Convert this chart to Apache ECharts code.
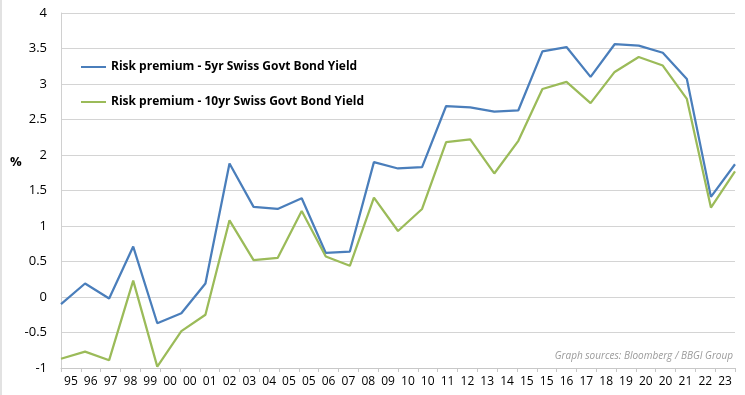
<!DOCTYPE html>
<html>
<head>
<meta charset="utf-8">
<script src="https://cdn.jsdelivr.net/npm/echarts@6/dist/echarts.min.js"></script>
<style>
  html, body { margin: 0; padding: 0; background: #fff; }
  #chart { width: 745px; height: 395px; }
</style>
</head>
<body>
<div id="chart"></div>
<script>
// yearly points, 1995 .. 2023
const years = ['1995','1996','1997','1998','1999','2000','2001','2002','2003','2004',
  '2005','2006','2007','2008','2009','2010','2011','2012','2013','2014',
  '2015','2016','2017','2018','2019','2020','2021','2022','2023'];

// labels printed under the axis (date axis in the original, so some repeat)
const tickLabels = ['95','96','97','98','99','00','00','01','02','03','04','05','05','06','07','08','09',
  '10','10','11','12','13','14','15','15','16','17','18','19','20','20','21','22','23'];

const seriesNames = ['Risk premium - 5yr Swiss Govt Bond Yield', 'Risk premium - 10yr Swiss Govt Bond Yield'];

const premium5y = [-0.10, 0.19, -0.02, 0.71, -0.37, -0.23, 0.19, 1.88, 1.27, 1.24,
  1.39, 0.62, 0.64, 1.90, 1.81, 1.83, 2.69, 2.67, 2.61, 2.63,
  3.46, 3.52, 3.10, 3.56, 3.54, 3.44, 3.07, 1.41, 1.87];

const premium10y = [-0.87, -0.77, -0.89, 0.23, -0.98, -0.48, -0.25, 1.08, 0.52, 0.55,
  1.21, 0.57, 0.44, 1.40, 0.93, 1.24, 2.18, 2.22, 1.74, 2.20,
  2.93, 3.03, 2.73, 3.17, 3.38, 3.26, 2.79, 1.26, 1.77];

const lineColors = ['#4a7ebb', '#9bbb59'];
const font = '"Open Sans", "DejaVu Sans", sans-serif';

let chart = echarts.init(document.getElementById('chart'));

let option = {
  animation: false,
  color: lineColors,
  textStyle: { fontFamily: font },
  grid: { left: 61, right: 10, top: 13, bottom: 27 },
  legend: {
    data: seriesNames,
    orient: 'vertical',
    left: 81,
    top: 59,
    padding: 0,
    icon: 'rect',
    itemWidth: 25,
    itemHeight: 2,
    itemGap: 19,
    textStyle: { fontFamily: font, fontSize: 12, fontWeight: 'bold', color: '#000', lineHeight: 16 }
  },
  xAxis: [
    {
      // data axis, one slot per year
      type: 'category',
      data: years,
      boundaryGap: false,
      show: false
    },
    {
      // axis line + ticks sitting on zero
      type: 'category',
      data: tickLabels,
      boundaryGap: true,
      position: 'bottom',
      axisLine: { onZero: true, lineStyle: { color: '#c8c8c8', width: 1 } },
      axisTick: { show: true, length: 4, interval: 0, lineStyle: { color: '#c8c8c8' } },
      axisLabel: { show: false },
      splitLine: { show: false }
    },
    {
      // the printed labels along the bottom
      type: 'category',
      data: tickLabels,
      boundaryGap: true,
      position: 'bottom',
      axisLine: { show: false, onZero: false },
      axisTick: { show: false },
      axisLabel: { interval: 0, margin: 8, fontSize: 12, color: '#000', fontFamily: font },
      splitLine: { show: false }
    }
  ],
  yAxis: {
    type: 'value',
    min: -1,
    max: 4,
    interval: 0.5,
    axisLine: { show: true, lineStyle: { color: '#d0d0d0' } },
    axisTick: { show: false },
    axisLabel: { margin: 14, fontSize: 13, color: '#000', fontFamily: font },
    splitLine: { lineStyle: { color: '#d4d4d4', width: 1 } }
  },
  graphic: [
    {
      type: 'text',
      left: 10,
      top: 156,
      style: { text: '%', font: 'bold 13px ' + font, fill: '#000' }
    },
    {
      type: 'text',
      right: 12,
      top: 351,
      style: { text: 'Graph sources: Bloomberg / BBGI Group', font: 'italic 10px ' + font, fill: '#9a9a9a' }
    },
    {
      type: 'line',
      shape: { x1: 1, y1: 0, x2: 1, y2: 395 },
      style: { stroke: '#d9d9d9', lineWidth: 1.5 }
    }
  ],
  series: [
    {
      name: seriesNames[0],
      type: 'line',
      xAxisIndex: 0,
      data: premium5y,
      symbol: 'none',
      lineStyle: { width: 2.25, color: lineColors[0] }
    },
    {
      name: seriesNames[1],
      type: 'line',
      xAxisIndex: 0,
      data: premium10y,
      symbol: 'none',
      lineStyle: { width: 2.25, color: lineColors[1] }
    }
  ]
};

chart.setOption(option);
</script>
</body>
</html>
